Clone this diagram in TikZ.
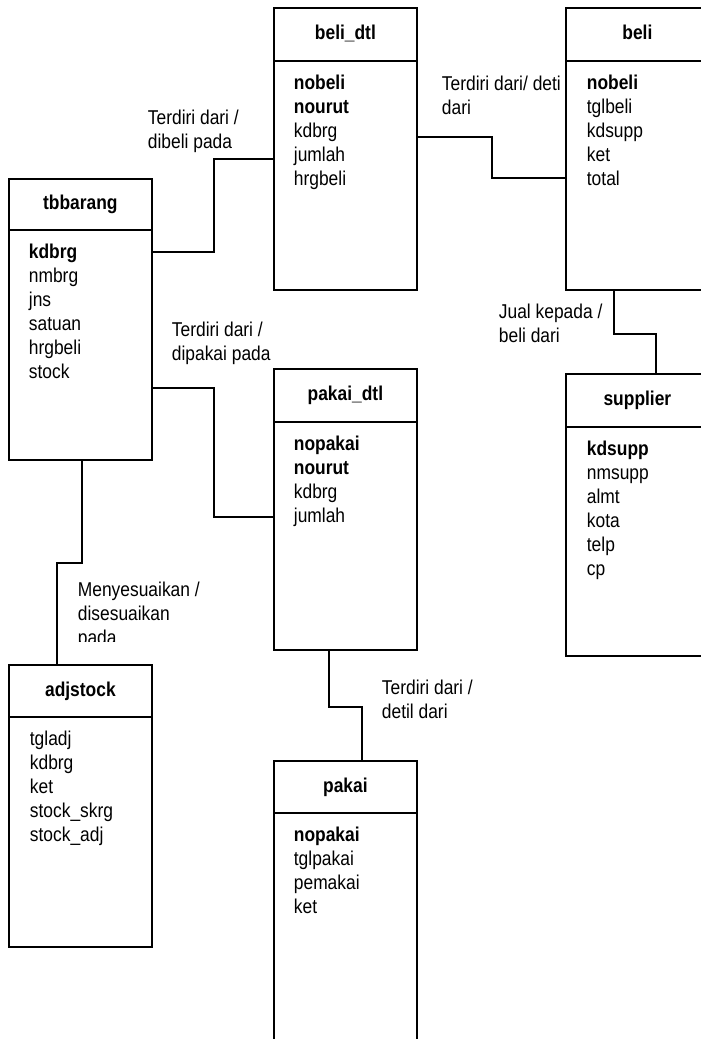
\documentclass[tikz,border=0pt]{standalone}
\usepackage{fontspec}
\setmainfont{Liberation Sans}[FakeStretch=0.87]

\tikzset{
  txt/.style={font=\fontsize{20}{24}\selectfont},
  head/.style={draw, fill=white, txt, minimum width=143pt, anchor=north west,
    inner sep=0pt, text height=14.5pt, text depth=4pt},
  body/.style={draw, fill=white, minimum width=143pt, anchor=north west, inner sep=0pt},
  list/.style={txt, anchor=north west, inner sep=0pt, align=left}
}

\begin{document}
\begin{tikzpicture}[x=1pt,y=-1pt,line width=1.8pt]

  \useasboundingbox (0,0) rectangle (701,1039);
  \clip (0,0) rectangle (701,1039);

  % relationship labels
  \begin{scope}[every node/.style={list}]
    \node (lbl1) at (147,108.7) {Terdiri dari /\\dibeli pada};
    \node (lbl2) at (441,75) {Terdiri dari/ deti\\dari};
    \node (lbl3) at (171,320.7) {Terdiri dari /\\dipakai pada};
    \node (lbl4) at (498,303) {Jual kepada /\\beli dari};
    \node (lbl6) at (381,679) {Terdiri dari /\\detil dari};
  \end{scope}
  \begin{scope}
    \clip (0,0) rectangle (701,641);
    \node[list] (lbl5) at (77,580.7) {Menyesuaikan /\\disesuaikan\\pada};
  \end{scope}

  % tables
  \begin{scope}[every node/.style={head}]
    \node[minimum height=53pt] (belidtl-h)  at (273,7)   {\textbf{beli\_dtl}};
    \node[minimum height=53pt] (beli-h)     at (565,7)   {\textbf{beli}};
    \node[minimum height=51pt] (tbbarang-h) at (8,178)   {\textbf{tbbarang}};
    \node[minimum height=53pt] (pakaidtl-h) at (273,368) {\textbf{pakai\_dtl}};
    \node[minimum height=53pt] (supplier-h) at (565,373) {\textbf{supplier}};
    \node[minimum height=52pt] (adjstock-h) at (8,664)   {\textbf{adjstock}};
    \node[minimum height=52pt] (pakai-h)    at (273,760) {\textbf{pakai}};
  \end{scope}

  \begin{scope}[every node/.style={body}]
    \node[minimum height=229pt] (belidtl)  at (273,60)  {};
    \node[minimum height=229pt] (beli)     at (565,60)  {};
    \node[minimum height=230pt] (tbbarang) at (8,229)   {};
    \node[minimum height=228pt] (pakaidtl) at (273,421) {};
    \node[minimum height=229pt] (supplier) at (565,426) {};
    \node[minimum height=230pt] (adjstock) at (8,716)   {};
    \node[minimum height=260pt] (pakai)    at (273,812) {};
  \end{scope}

  \begin{scope}[every node/.style={list}]
    \node (belidtl-f)  at (293,74.5)  {\textbf{nobeli}\\\textbf{nourut}\\kdbrg\\jumlah\\hrgbeli};
    \node (beli-f)     at (586,74.5)  {\textbf{nobeli}\\tglbeli\\kdsupp\\ket\\total};
    \node (tbbarang-f) at (28,243.5)  {\textbf{kdbrg}\\nmbrg\\jns\\satuan\\hrgbeli\\stock};
    \node (pakaidtl-f) at (293,435.5) {\textbf{nopakai}\\\textbf{nourut}\\kdbrg\\jumlah};
    \node (supplier-f) at (586,440.5) {\textbf{kdsupp}\\nmsupp\\almt\\kota\\telp\\cp};
    \node (adjstock-f) at (29,730.5)  {tgladj\\kdbrg\\ket\\stock\_skrg\\stock\_adj};
    \node (pakai-f)    at (293,826.5) {\textbf{nopakai}\\tglpakai\\pemakai\\ket};
  \end{scope}

  % relations
  \draw ([yshift=-23pt]tbbarang.north east) -- ++(61,0) |- ([yshift=-99pt]belidtl.north west);
  \draw ([yshift=-77pt]belidtl.north east) -- ++(74,0) |- ([yshift=-118pt]beli.north west);
  \draw ([xshift=49pt]beli.south west) -- ++(0,43) -| ([xshift=91pt]supplier-h.north west);
  \draw ([yshift=-159pt]tbbarang.north east) -- ++(61,0) |- ([yshift=-96pt]pakaidtl.north west);
  \draw ([xshift=74pt]tbbarang.south west) -- ++(0,102) -| ([xshift=49pt]adjstock-h.north west);
  \draw ([xshift=56pt]pakaidtl.south west) -- ++(0,56) -| ([xshift=89pt]pakai-h.north west);

\end{tikzpicture}
\end{document}
